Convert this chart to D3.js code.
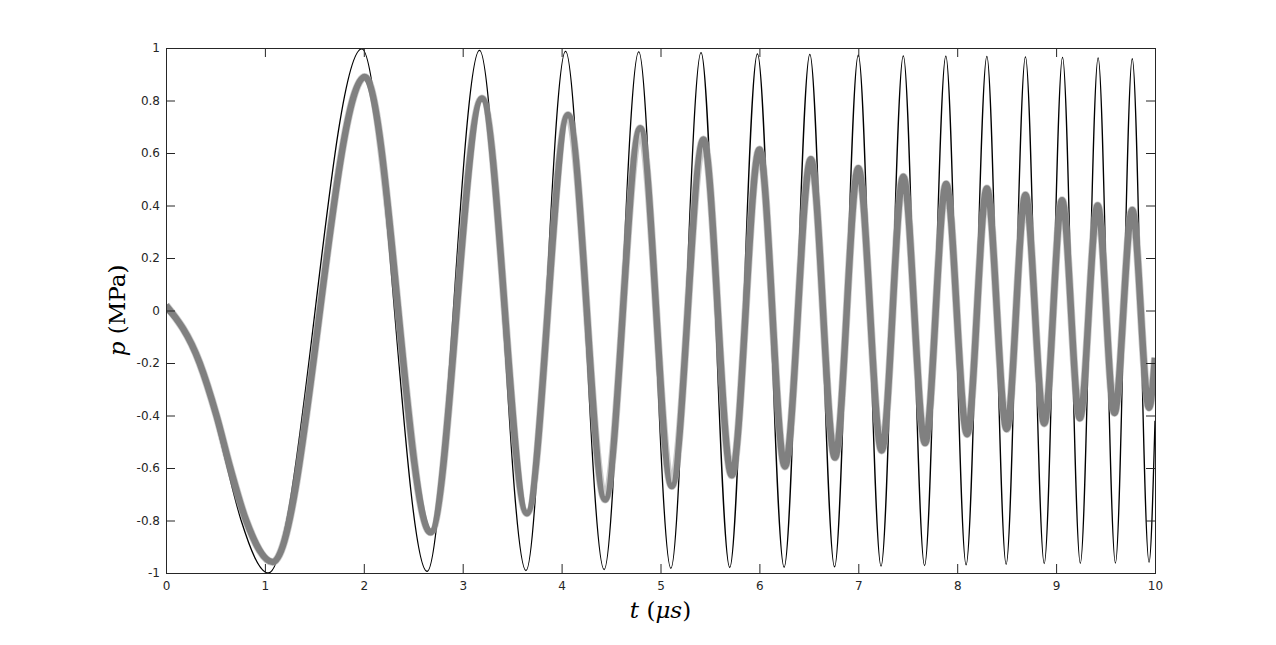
<!DOCTYPE html>
<html>
<head>
<meta charset="utf-8">
<script src="https://cdn.jsdelivr.net/npm/d3@7"></script>
<style>
  body { margin: 0; background: #fff; }
  .tick text { font-family: "DejaVu Sans", sans-serif; font-size: 12px; fill: #262626; }
  .tick line { stroke: #262626; }
  .lbl { font-family: "DejaVu Serif", "Liberation Serif", serif; font-size: 23px; fill: #000; }
</style>
</head>
<body>
<div id="chart"></div>
<script>
// points (t in µs, p in MPa): start, first descent, then extrema
var refT = [0, 0.33, 0.49, 0.62, 0.76, 1.035, 1.98, 2.64, 3.17, 3.64, 4.04, 4.43, 4.78, 5.105, 5.41, 5.70, 5.98, 6.25, 6.51, 6.76, 7.0, 7.23, 7.455, 7.67, 7.885, 8.09, 8.30, 8.495, 8.69, 8.88, 9.065, 9.245, 9.425, 9.60, 9.77, 9.94, 10];
var refP = [0, -0.2, -0.4, -0.6, -0.8, -1.0, 0.997, -0.994, 0.991, -0.991, 0.987, -0.987, 0.985, -0.982, 0.982, -0.979, 0.978, -0.978, 0.976, -0.977, 0.973, -0.974, 0.97, -0.972, 0.969, -0.969, 0.968, -0.967, 0.966, -0.964, 0.964, -0.963, 0.962, -0.962, 0.959, -0.959, -0.42];

var simT = [0, 0.34, 0.51, 0.65, 0.81, 1.08, 2.01, 2.675, 3.195, 3.65, 4.065, 4.44, 4.795, 5.114, 5.434, 5.72, 6.0, 6.258, 6.52, 6.764, 7.0, 7.236, 7.455, 7.675, 7.888, 8.10, 8.30, 8.50, 8.69, 8.88, 9.06, 9.24, 9.42, 9.59, 9.77, 9.94, 10];
var simP = [0.02, -0.2, -0.4, -0.6, -0.8, -0.958, 0.89, -0.845, 0.808, -0.772, 0.745, -0.72, 0.694, -0.669, 0.651, -0.628, 0.613, -0.594, 0.576, -0.56, 0.542, -0.533, 0.51, -0.505, 0.482, -0.471, 0.465, -0.451, 0.44, -0.43, 0.42, -0.41, 0.40, -0.39, 0.383, -0.37, -0.18];

var xTicks = [0, 1, 2, 3, 4, 5, 6, 7, 8, 9, 10];
var yTicks = [-1, -0.8, -0.6, -0.4, -0.2, 0, 0.2, 0.4, 0.6, 0.8, 1];
var yTickLabels = ["-1", "-0.8", "-0.6", "-0.4", "-0.2", "0", "0.2", "0.4", "0.6", "0.8", "1"];

var fullwidth = 1276, fullheight = 645;
var margin = { top: 48, right: 121, bottom: 72, left: 166 };
var width = fullwidth - margin.left - margin.right;
var height = fullheight - margin.top - margin.bottom;

var svg = d3.select("#chart").append("svg")
    .attr("width", fullwidth)
    .attr("height", fullheight);

var g = svg.append("g")
    .attr("transform", "translate(" + margin.left + "," + margin.top + ")");

var x = d3.scaleLinear().domain([0, 10]).range([0, width]);
var y = d3.scaleLinear().domain([-1, 1]).range([height, 0]);

var zip = function(ts, ps) { return ts.map(function(t, i) { return [t, ps[i]]; }); };

var line = d3.line()
    .x(function(d) { return x(d[0]); })
    .y(function(d) { return y(d[1]); })
    .curve(d3.curveMonotoneX);

g.append("defs").append("clipPath").attr("id", "clip")
  .append("rect").attr("width", width).attr("height", height + 1).attr("y", -1);

var plot = g.append("g").attr("clip-path", "url(#clip)");

plot.append("path")
    .datum(zip(refT, refP))
    .attr("d", line)
    .attr("fill", "none")
    .attr("stroke", "#000")
    .attr("stroke-width", 1.3);

// marker fuzz + thick gray trace
plot.append("path")
    .datum(zip(simT, simP))
    .attr("d", line)
    .attr("fill", "none")
    .attr("stroke", "#a8a8a8")
    .attr("stroke-width", 8)
    .attr("opacity", 0.6);

plot.append("path")
    .datum(zip(simT, simP))
    .attr("d", line)
    .attr("fill", "none")
    .attr("stroke", "#808080")
    .attr("stroke-width", 6.5);

// axes, ticks inward
var fmtY = function(d) { return yTickLabels[yTicks.indexOf(d)]; };

g.append("g")
    .attr("transform", "translate(0," + height + ")")
    .call(d3.axisBottom(x).tickValues(xTicks).tickSizeInner(-9).tickSizeOuter(0).tickPadding(8).tickFormat(d3.format("d")))
    .call(function(s) { s.select(".domain").remove(); });

g.append("g")
    .call(d3.axisLeft(y).tickValues(yTicks).tickSizeInner(-9).tickSizeOuter(0).tickPadding(6).tickFormat(fmtY))
    .call(function(s) { s.select(".domain").remove(); });

g.append("g")
    .call(d3.axisTop(x).tickValues(xTicks).tickSizeInner(-9).tickSizeOuter(0).tickFormat(""))
    .call(function(s) { s.select(".domain").remove(); });

g.append("g")
    .attr("transform", "translate(" + width + ",0)")
    .call(d3.axisRight(y).tickValues(yTicks).tickSizeInner(-9).tickSizeOuter(0).tickFormat(""))
    .call(function(s) { s.select(".domain").remove(); });

g.append("rect")
    .attr("width", width)
    .attr("height", height)
    .attr("fill", "none")
    .attr("stroke", "#262626")
    .attr("stroke-width", 1)
    .attr("shape-rendering", "crispEdges");

// axis labels
var xl = svg.append("text")
    .attr("class", "lbl")
    .attr("x", margin.left + width / 2)
    .attr("y", 618)
    .attr("text-anchor", "middle");
xl.append("tspan").attr("font-style", "italic").text("t");
xl.append("tspan").text(" (");
xl.append("tspan").attr("font-style", "italic").text("μs");
xl.append("tspan").text(")");

var yl = svg.append("text")
    .attr("class", "lbl")
    .attr("transform", "translate(125," + (margin.top + height / 2) + ") rotate(-90)")
    .attr("text-anchor", "middle");
yl.append("tspan").attr("font-style", "italic").text("p");
yl.append("tspan").text(" (MPa)");
</script>
</body>
</html>
